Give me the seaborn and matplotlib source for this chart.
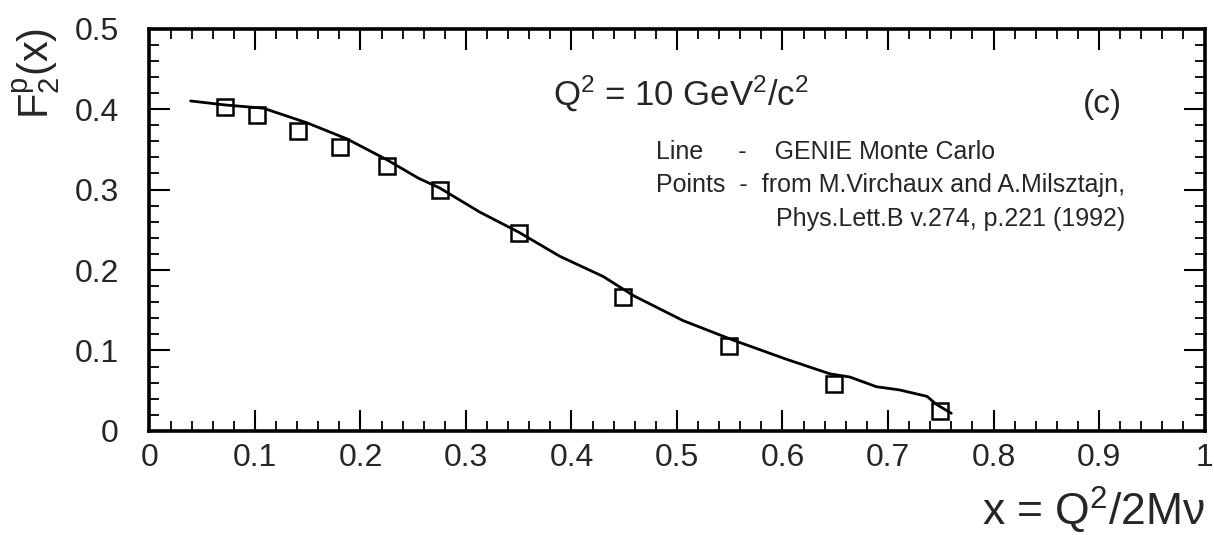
import numpy as np
import pandas as pd
import matplotlib
matplotlib.use("Agg")
import matplotlib.pyplot as plt
from matplotlib.ticker import MultipleLocator
import seaborn as sns

# ---- data ----
curve_x = [0.039, 0.072, 0.108, 0.149, 0.187, 0.225, 0.255, 0.275, 0.313, 0.350,
           0.389, 0.430, 0.459, 0.506, 0.553, 0.604, 0.645, 0.664, 0.689, 0.711,
           0.737, 0.746, 0.760]
curve_y = [0.410, 0.405, 0.401, 0.383, 0.363, 0.337, 0.314, 0.302, 0.272, 0.247,
           0.217, 0.192, 0.168, 0.137, 0.113, 0.089, 0.071, 0.067, 0.055, 0.051,
           0.043, 0.033, 0.022]

points_x = [0.0716, 0.1016, 0.141, 0.1806, 0.2254, 0.2754, 0.3502, 0.449, 0.549, 0.649, 0.749]
points_y = [0.403, 0.392, 0.373, 0.353, 0.329, 0.299, 0.246, 0.166, 0.105, 0.058, 0.025]

x_ticks = [0, 0.1, 0.2, 0.3, 0.4, 0.5, 0.6, 0.7, 0.8, 0.9, 1.0]
x_tick_labels = ["0", "0.1", "0.2", "0.3", "0.4", "0.5", "0.6", "0.7", "0.8", "0.9", "1"]
y_ticks = [0, 0.1, 0.2, 0.3, 0.4, 0.5]
y_tick_labels = ["0", "0.1", "0.2", "0.3", "0.4", "0.5"]

sns.set_theme(style="ticks")
plt.rcParams["font.family"] = ["Liberation Sans", "DejaVu Sans"]
plt.rcParams["mathtext.fontset"] = "custom"
plt.rcParams["mathtext.rm"] = "Liberation Sans"
plt.rcParams["mathtext.it"] = "Liberation Sans:italic"
plt.rcParams["mathtext.default"] = "regular"

fig = plt.figure(figsize=(12.14, 5.35), dpi=100)
ax = fig.add_axes([0.1231, 0.1944, 0.9922 - 0.1231, 0.7523])

curve = pd.DataFrame({"x": curve_x, "y": curve_y})
pts = pd.DataFrame({"x": points_x, "y": points_y})

sns.lineplot(data=curve, x="x", y="y", ax=ax, color="black", linewidth=2.0,
             sort=False, zorder=3)
sns.lineplot(data=pts, x="x", y="y", ax=ax, linestyle="none", marker="s",
             markersize=11.5, markerfacecolor="none", markeredgecolor="black",
             markeredgewidth=1.8, zorder=2)

ax.set_xlim(0, 1)
ax.set_ylim(0, 0.5)
ax.set_xticks(x_ticks)
ax.set_xticklabels(x_tick_labels)
ax.set_yticks(y_ticks)
ax.set_yticklabels(y_tick_labels)
ax.xaxis.set_minor_locator(MultipleLocator(0.02))
ax.yaxis.set_minor_locator(MultipleLocator(0.02))
ax.tick_params(which="both", direction="in", top=True, right=True, color="black")
ax.tick_params(which="major", length=15, width=1.5, labelsize=23)
ax.tick_params(which="minor", length=7.5, width=1.3)
ax.tick_params(axis="x", which="major", pad=9)
ax.tick_params(axis="y", which="major", pad=22)

for sp in ax.spines.values():
    sp.set_linewidth(2.6)
    sp.set_color("black")

ax.set_xlabel("")
ax.set_ylabel("")
fig.text(0.993, 0.018, "x = Q$^2$/2Mν", ha="right", va="baseline", fontsize=32)
fig.text(0.030, 0.948, "F$_2^p$(x)", rotation=90, ha="center", va="top", fontsize=30)

ax.text(0.3825, 0.404, "Q$^2$ = 10 GeV$^2$/c$^2$", ha="left", va="baseline", fontsize=25)
ax.text(0.885, 0.405, "(c)", ha="left", va="center", fontsize=24)
ax.text(0.480, 0.347, "Line     -    GENIE Monte Carlo", ha="left", va="center", fontsize=18)
ax.text(0.480, 0.305, "Points  -  from M.Virchaux and A.Milsztajn,", ha="left", va="center", fontsize=18)
ax.text(0.594, 0.263, "Phys.Lett.B v.274, p.221 (1992)", ha="left", va="center", fontsize=18)

fig.savefig("out.png", dpi=100)
